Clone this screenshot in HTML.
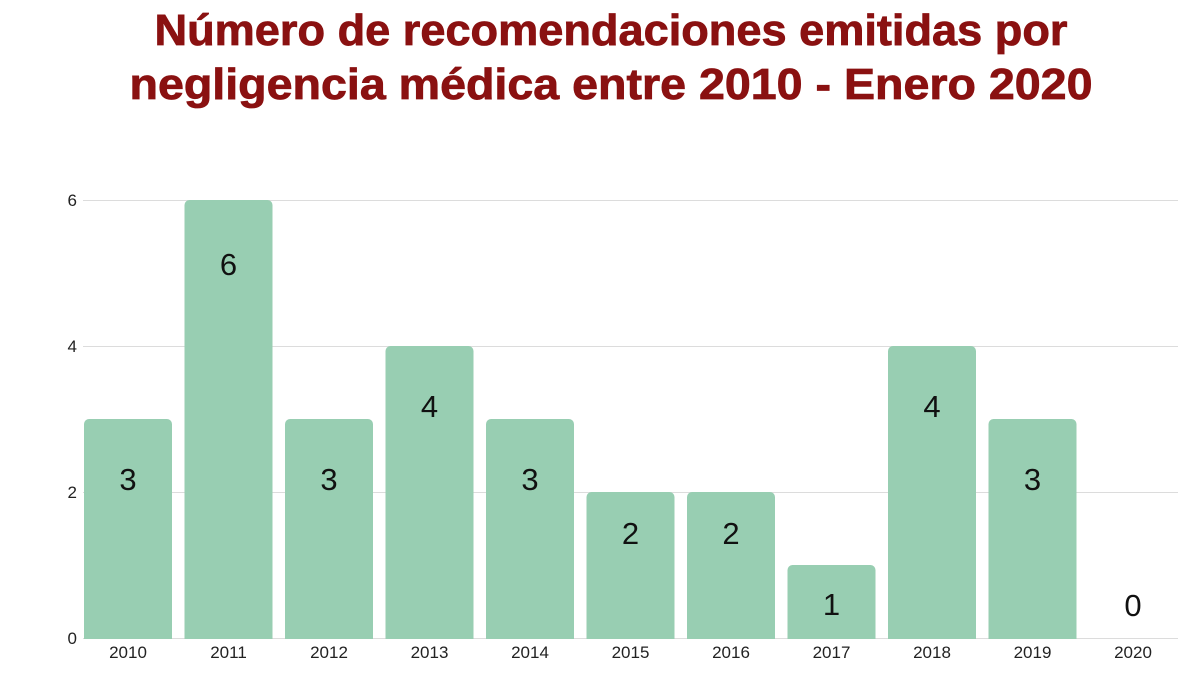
<!DOCTYPE html>
<html><head><meta charset="utf-8"><style>
html,body{margin:0;padding:0;background:#fff;}
</style></head><body>
<svg width="1200" height="675" viewBox="0 0 1200 675" xmlns="http://www.w3.org/2000/svg" font-family="Liberation Sans, sans-serif">
<rect width="1200" height="675" fill="#fff"/>
<g fill="#8a1111" stroke="#8a1111" stroke-width="0.8" font-weight="bold" font-size="44" text-anchor="middle">
<text x="611" y="45" textLength="913" lengthAdjust="spacingAndGlyphs">Número de recomendaciones emitidas por</text>
<text x="611" y="99" textLength="963" lengthAdjust="spacingAndGlyphs">negligencia médica entre 2010 - Enero 2020</text>
</g>
<g stroke="#dcdcdc" stroke-width="1">
<line x1="83" y1="200.5" x2="1178" y2="200.5"/>
<line x1="83" y1="346.5" x2="1178" y2="346.5"/>
<line x1="83" y1="492.5" x2="1178" y2="492.5"/>
<line x1="83" y1="638.5" x2="1178" y2="638.5"/>
</g>
<g fill="#98ceb2">
<rect x="84" y="419" width="88" height="229" rx="5"/>
<rect x="184.5" y="200" width="88" height="448" rx="5"/>
<rect x="285" y="419" width="88" height="229" rx="5"/>
<rect x="385.5" y="346" width="88" height="302" rx="5"/>
<rect x="486" y="419" width="88" height="229" rx="5"/>
<rect x="586.5" y="492" width="88" height="156" rx="5"/>
<rect x="687" y="492" width="88" height="156" rx="5"/>
<rect x="787.5" y="565" width="88" height="83" rx="5"/>
<rect x="888" y="346" width="88" height="302" rx="5"/>
<rect x="988.5" y="419" width="88" height="229" rx="5"/>
</g>
<rect x="0" y="639" width="1200" height="36" fill="#fff"/>
<g font-size="17" fill="#222" text-anchor="end">
<text x="77" y="206">6</text>
<text x="77" y="352">4</text>
<text x="77" y="498">2</text>
<text x="77" y="644">0</text>
</g>
<g font-size="31" fill="#111" text-anchor="middle">
<text x="128" y="490">3</text>
<text x="228.5" y="275">6</text>
<text x="329" y="490">3</text>
<text x="429.5" y="417">4</text>
<text x="530" y="490">3</text>
<text x="630.5" y="544">2</text>
<text x="731" y="544">2</text>
<text x="831.5" y="615">1</text>
<text x="932" y="417">4</text>
<text x="1032.5" y="490">3</text>
<text x="1133" y="616">0</text>
</g>
<g font-size="17" fill="#222" text-anchor="middle">
<text x="128" y="658">2010</text>
<text x="228.5" y="658">2011</text>
<text x="329" y="658">2012</text>
<text x="429.5" y="658">2013</text>
<text x="530" y="658">2014</text>
<text x="630.5" y="658">2015</text>
<text x="731" y="658">2016</text>
<text x="831.5" y="658">2017</text>
<text x="932" y="658">2018</text>
<text x="1032.5" y="658">2019</text>
<text x="1133" y="658">2020</text>
</g>
</svg>
</body></html>
